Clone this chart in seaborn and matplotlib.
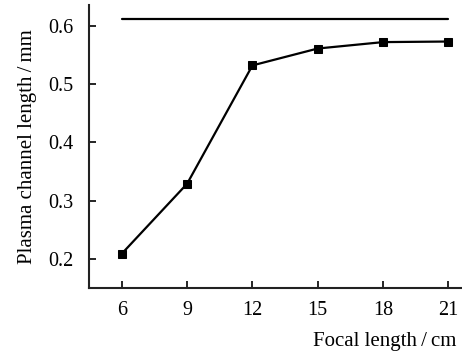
import matplotlib
matplotlib.use("Agg")
import matplotlib.pyplot as plt
import seaborn as sns
import pandas as pd

focal_cm = [6, 9, 12, 15, 18, 21]
channel_mm = [0.209, 0.329, 0.532, 0.561, 0.572, 0.573]
ref_x = [6, 21]
ref_y = [0.612, 0.612]
xticks = [6, 9, 12, 15, 18, 21]
yticks = [0.2, 0.3, 0.4, 0.5, 0.6]

sns.set_theme(style="ticks")
plt.rcParams['font.family'] = ['Liberation Serif', 'DejaVu Serif']

fig = plt.figure(figsize=(4.62, 3.54), dpi=100)
ax = fig.add_axes([0.1926, 0.1864, 0.806, 0.80])

df = pd.DataFrame({"x": focal_cm, "y": channel_mm})
ref = pd.DataFrame({"x": ref_x, "y": ref_y})
sns.lineplot(data=ref, x="x", y="y", ax=ax, color="black", linewidth=1.6)
sns.lineplot(data=df, x="x", y="y", ax=ax, color="black", linewidth=1.6,
             marker="s", markersize=6, markeredgecolor="black", markerfacecolor="black")

ax.set_xlim(4.49, 21.6)
ax.set_ylim(0.150, 0.636)
ax.set_xticks(xticks)
ax.set_xticklabels([str(v) for v in xticks])
ax.set_yticks(yticks)
ax.set_yticklabels([f"{v:.1f}" for v in yticks])
ax.tick_params(direction="in", length=5, width=1.2, labelsize=14.5, colors="black")
ax.tick_params(axis="x", pad=9)
ax.tick_params(axis="y", pad=11)
for s in ["top", "right"]:
    ax.spines[s].set_visible(False)
for s in ["left", "bottom"]:
    ax.spines[s].set_linewidth(1.5)
    ax.spines[s].set_color("#222222")

ax.set_xlabel("Focal length\u2009/\u2009cm", fontsize=15, color="black")
ax.xaxis.set_label_coords(0.987, -0.155)
ax.xaxis.label.set_horizontalalignment("right")
ax.set_ylabel("Plasma channel length\u2009/\u2009mm", fontsize=15, color="black")
ax.yaxis.set_label_coords(-0.14, 0.5)

fig.savefig("out.png", dpi=100)
